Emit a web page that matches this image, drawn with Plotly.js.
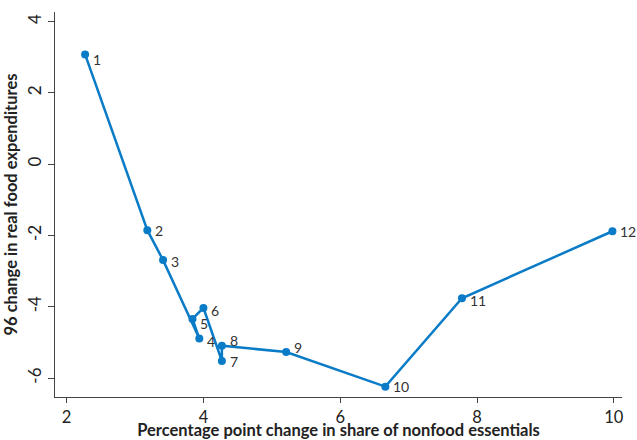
<!DOCTYPE html>
<html><head><meta charset="utf-8">
<script src="https://cdn.plot.ly/plotly-3.0.1.min.js"></script>
<style>html,body{margin:0;padding:0;background:#fff}</style>
</head><body><div id="chart" style="width:637px;height:440px"></div>
<script>
const shareChange = [2.27, 3.18, 3.41, 3.94, 3.84, 4.00, 4.27, 4.27, 5.21, 6.66, 7.78, 9.98];
const foodChange = [3.08, -1.85, -2.69, -4.89, -4.34, -4.03, -5.52, -5.09, -5.27, -6.24, -3.76, -1.88];
const pointLabels = ['1','2','3','4','5','6','7','8','9','10','11','12'];
const xTicks = [2, 4, 6, 8, 10];
const yTicks = [-6, -4, -2, 0, 2, 4];
const yTickText = ['-6', '-4', '-2', '0', '2', '4'];

// label placement (pixel nudges, styling only)
const labelNudgeY = [-5, 0, -1, -3, -5, -3, 0, 5, 5, 0, -2, 0];

const axisColor = '#444';
const fam = 'Lato, Open Sans, sans-serif';
const annotations = pointLabels.map((t, i) => ({
  x: shareChange[i], y: foodChange[i], text: t, showarrow: false,
  xanchor: 'left', yanchor: 'middle', xshift: 6, yshift: labelNudgeY[i],
  font: {family: fam, size: 14, color: '#333'}
}));

Plotly.newPlot('chart', [{
  x: shareChange, y: foodChange,
  mode: 'lines+markers', type: 'scatter',
  line: {color: '#0a7bc6', width: 2.5},
  marker: {color: '#0a7bc6', size: 8},
  cliponaxis: false, hoverinfo: 'none'
}], {
  width: 637, height: 440,
  margin: {l: 55, r: 15, t: 12, b: 43},
  paper_bgcolor: '#fff', plot_bgcolor: '#fff',
  showlegend: false,
  font: {family: fam, color: '#222'},
  annotations: annotations,
  xaxis: {
    range: [1.83, 10.12], tickvals: xTicks, showgrid: false, zeroline: false,
    showline: true, linecolor: axisColor, linewidth: 1.2,
    ticks: 'outside', ticklen: 5, tickcolor: axisColor,
    tickfont: {size: 16.5, color: '#222'},
    title: {text: '<b>Percentage point change in share of nonfood essentials</b>', font: {size: 16.5, color: '#222'}, standoff: 1}
  },
  yaxis: {
    range: [-6.53, 4.27], tickvals: yTicks, ticktext: yTickText, showgrid: false, zeroline: false,
    showline: true, linecolor: axisColor, linewidth: 1.2,
    ticks: 'outside', ticklen: 6, tickcolor: axisColor, tickangle: -90,
    tickfont: {size: 17, color: '#222'},
    title: {text: '<b>96 change in real food expenditures</b>', font: {size: 16.5, color: '#222'}, standoff: 2}
  }
}, {displayModeBar: false, staticPlot: true});
</script></body></html>
